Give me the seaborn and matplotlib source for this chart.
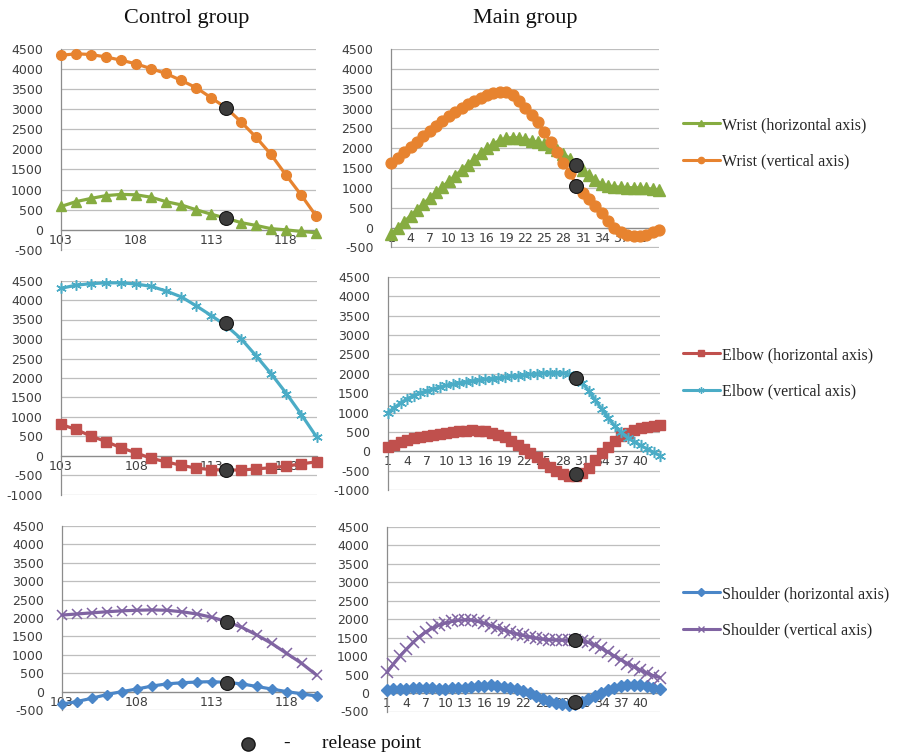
import numpy as np
import pandas as pd
import matplotlib
matplotlib.use("Agg")
import matplotlib.pyplot as plt
import seaborn as sns
from matplotlib.lines import Line2D
from matplotlib.font_manager import FontProperties

# ---------------- data ----------------
ctrl_frames = list(range(103, 121))
main_frames = list(range(1, 44))
ctrl_ticks = [103, 108, 113, 118]
main_ticks = list(range(1, 41, 3))
ctrl_release = 114
main_release = 30

# Wrist
ctrl_wrist_h = [580, 700, 780, 850, 880, 870, 810, 700, 620, 500, 390, 290, 180, 110, 30, 0, -40, -70]
ctrl_wrist_v = [4330, 4370, 4350, 4290, 4210, 4120, 4000, 3880, 3710, 3530, 3280, 3030, 2680, 2300, 1870, 1360, 870, 350]
main_wrist_h = [-150, 0, 150, 300, 450, 600, 750, 890, 1030, 1170, 1310, 1450, 1590, 1730, 1870, 2000,
                2110, 2200, 2250, 2270, 2260, 2230, 2190, 2150, 2100, 2040, 1960, 1860, 1740, 1600, 1450,
                1320, 1200, 1100, 1050, 1030, 1020, 1010, 1005, 1000, 990, 970, 940]
main_wrist_v = [1640, 1760, 1900, 2040, 2170, 2300, 2430, 2560, 2680, 2800, 2920, 3020, 3120, 3200, 3270,
                3340, 3390, 3420, 3410, 3330, 3180, 3020, 2850, 2650, 2400, 2150, 1900, 1640, 1380, 1080,
                880, 720, 540, 360, 160, 0, -110, -190, -220, -220, -180, -120, -60]
ctrl_wrist_rel = [290, 3030]
main_wrist_rel = [1580, 1060]

# Elbow
ctrl_elbow_h = [810, 680, 510, 370, 210, 80, -60, -150, -240, -310, -350, -360, -360, -330, -300, -260, -200, -150]
ctrl_elbow_v = [4300, 4380, 4420, 4440, 4440, 4410, 4350, 4230, 4080, 3850, 3600, 3340, 3000, 2560, 2100, 1600, 1060, 490]
main_elbow_h = [100, 170, 240, 290, 330, 370, 400, 430, 455, 475, 500, 520, 535, 540, 535, 515, 480, 430,
                360, 270, 170, 70, -40, -160, -290, -400, -500, -580, -630, -640, -570, -420, -230, -40,
                120, 270, 390, 480, 550, 600, 630, 660, 690]
main_elbow_v = [1000, 1130, 1250, 1360, 1440, 1510, 1560, 1610, 1660, 1700, 1730, 1765, 1790, 1815, 1840,
                1860, 1875, 1890, 1910, 1935, 1950, 1970, 1985, 2000, 2015, 2025, 2030, 2020, 1990, 1920,
                1770, 1560, 1320, 1090, 870, 650, 490, 350, 250, 150, 60, -30, -110]
ctrl_elbow_rel = [-370, 3400]
main_elbow_rel = [-590, 1900]

# Shoulder
ctrl_shoulder_h = [-340, -270, -180, -80, 0, 70, 150, 210, 240, 260, 270, 250, 210, 140, 70, 0, -60, -120]
ctrl_shoulder_v = [2080, 2110, 2140, 2170, 2195, 2210, 2220, 2210, 2170, 2110, 2020, 1900, 1750, 1540, 1310, 1040, 770, 450]
main_shoulder_h = [90, 100, 110, 120, 125, 130, 130, 125, 120, 120, 125, 135, 150, 165, 185, 200, 205, 195,
                   170, 140, 100, 50, -10, -80, -150, -210, -260, -300, -320, -300, -250, -170, -80, 10,
                   90, 150, 190, 210, 215, 205, 180, 140, 100]
main_shoulder_v = [560, 790, 1000, 1190, 1370, 1530, 1660, 1760, 1840, 1900, 1940, 1970, 1985, 1980, 1940,
                   1890, 1830, 1770, 1710, 1650, 1600, 1560, 1520, 1485, 1460, 1445, 1435, 1430, 1430, 1430,
                   1410, 1370, 1300, 1210, 1110, 1000, 900, 800, 710, 620, 540, 470, 420]
ctrl_shoulder_rel = [230, 1900]
main_shoulder_rel = [-230, 1440]

labels_wrist = ["Wrist (horizontal axis)", "Wrist (vertical axis)"]
labels_elbow = ["Elbow (horizontal axis)", "Elbow (vertical axis)"]
labels_shoulder = ["Shoulder (horizontal axis)", "Shoulder (vertical axis)"]
titles = ["Control group", "Main group"]

# ---------------- styles ----------------
GREEN, ORANGE = "#86AC41", "#E7832F"
RED, CYAN = "#C0504D", "#4BACC6"
BLUE, PURPLE = "#4A86C8", "#8064A2"
ASTER = (6, 2, 0)

sns.set_theme(style="white")
plt.rcParams["font.family"] = ["DejaVu Sans"]

fig = plt.figure(figsize=(9.03, 7.54), dpi=100)
W, H = 903.0, 754.0


def rect(x0, x1, ytop, ybot):
    return [x0 / W, 1 - ybot / H, (x1 - x0) / W, (ybot - ytop) / H]


# (color, marker, ctrl size, main size, edge width)
rows = [
    (rect(61, 316, 48.5, 250), rect(391.5, 659, 49, 247.5), -500,
     (ctrl_wrist_h, ctrl_wrist_v, ctrl_wrist_rel), (main_wrist_h, main_wrist_v, main_wrist_rel),
     (GREEN, "^", 7.5, 8.0, 1.0), (ORANGE, "o", 7.0, 7.8, 1.0), labels_wrist, 117),
    (rect(61, 316.5, 280.5, 495), rect(388, 660, 277, 490), -1000,
     (ctrl_elbow_h, ctrl_elbow_v, ctrl_elbow_rel), (main_elbow_h, main_elbow_v, main_elbow_rel),
     (RED, "s", 6.5, 7.5, 1.0), (CYAN, ASTER, 7.5, 8.0, 1.1), labels_elbow, 347),
    (rect(62, 316.5, 526, 710), rect(387, 660, 527, 711.5), -500,
     (ctrl_shoulder_h, ctrl_shoulder_v, ctrl_shoulder_rel), (main_shoulder_h, main_shoulder_v, main_shoulder_rel),
     (BLUE, "D", 5.5, 6.5, 1.0), (PURPLE, "x", 7.0, 8.0, 1.1), labels_shoulder, 586),
]


def style(ax, ylo, frames, major, minor):
    ax.set_xlim(frames[0], frames[-1])
    ax.set_ylim(ylo, 4500)
    ax.set_yticks(np.arange(ylo, 4501, 500))
    ax.set_yticklabels([str(v) for v in np.arange(ylo, 4501, 500)])
    ax.yaxis.grid(True, color="#BEBEBE", lw=0.9)
    ax.xaxis.grid(False)
    ax.set_axisbelow(True)
    ax.patch.set_alpha(0)
    for s in ["top", "right"]:
        ax.spines[s].set_visible(False)
    ax.spines["left"].set_color("#8C8C8C")
    ax.spines["left"].set_linewidth(0.9)
    ax.spines["bottom"].set_position(("data", 0))
    ax.spines["bottom"].set_color("#8C8C8C")
    ax.spines["bottom"].set_linewidth(0.9)
    ax.set_xticks(major)
    ax.set_xticklabels([str(v) for v in major])
    if minor:
        ax.set_xticks(frames, minor=True)
    ax.tick_params(axis="y", length=0, pad=13, labelsize=9, labelcolor="#3F3F3F")
    ax.tick_params(axis="x", which="both", direction="inout", length=4, width=0.8,
                   color="#8C8C8C", pad=1, labelsize=9, labelcolor="#3F3F3F")
    ax.set_xlabel("")
    ax.set_ylabel("")


def draw(ax, frames, series, st_h, st_v, rel_x, main):
    h, v, rel = series
    for vals, (c, m, ms_c, ms_m, mew) in ((h, st_h), (v, st_v)):
        sns.lineplot(x=frames, y=vals, ax=ax, color=c, marker=m,
                     markersize=(ms_m if main else ms_c),
                     markeredgecolor=c, markeredgewidth=mew, linewidth=2.3,
                     clip_on=False, legend=False, zorder=3)
    sns.scatterplot(x=[rel_x, rel_x], y=rel, ax=ax, s=100, color="#3C3C3C",
                    edgecolor="#151515", linewidth=0.8, zorder=6, clip_on=False, legend=False)


for (rl, rr, ylo, cser, mser, st_h, st_v, labs, leg_top) in rows:
    axl = fig.add_axes(rl)
    draw(axl, ctrl_frames, cser, st_h, st_v, ctrl_release, False)
    style(axl, ylo, ctrl_frames, ctrl_ticks, False)
    axr = fig.add_axes(rr)
    draw(axr, main_frames, mser, st_h, st_v, main_release, True)
    style(axr, ylo, main_frames, main_ticks, True)
    handles = [Line2D([], [], color=c, marker=m, markersize=4.5, markeredgecolor=c, lw=2.2)
               for (c, m, a, b, mew) in (st_h, st_v)]
    fig.legend(handles, labs, loc="upper left",
               bbox_to_anchor=(683 / W, 1 - leg_top / H), bbox_transform=fig.transFigure,
               frameon=False, prop=FontProperties(family="Liberation Serif", size=11.5),
               handlelength=2.3, handletextpad=0.15, labelspacing=1.3,
               borderaxespad=0, borderpad=0)

serif = "Liberation Serif"
fig.text(187 / W, 1 - 18 / H, titles[0], ha="center", va="center", family=serif, size=16, color="#111111")
fig.text(525 / W, 1 - 18 / H, titles[1], ha="center", va="center", family=serif, size=16, color="#111111")

fig.add_artist(Line2D([248 / W], [1 - 744 / H], marker="o", markersize=9.5, color="#3C3C3C",
                      markeredgecolor="#151515", transform=fig.transFigure))
fig.text(287 / W, 1 - 743 / H, "-", ha="center", va="center", family=serif, size=14, color="#111111")
fig.text(322 / W, 1 - 743 / H, "release point", ha="left", va="center", family=serif, size=14, color="#111111")

fig.savefig("out.png", dpi=100)
